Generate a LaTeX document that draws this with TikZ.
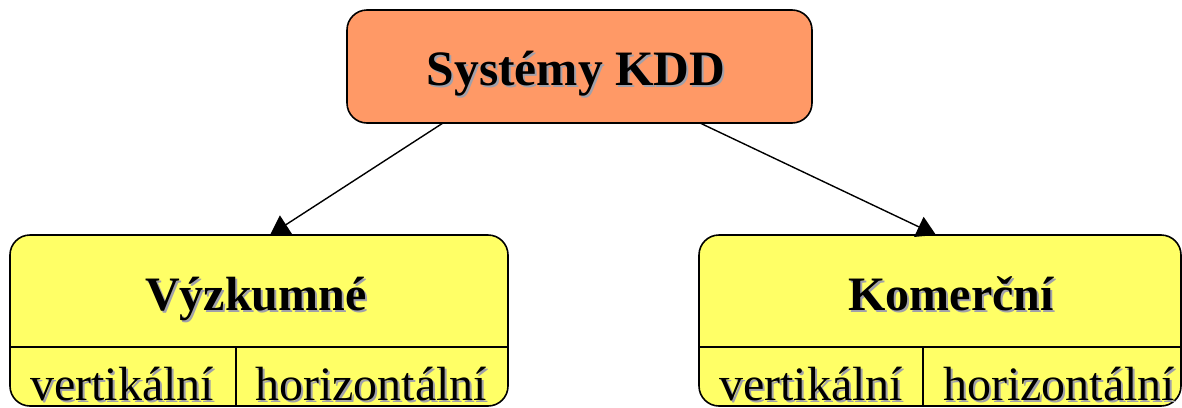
\documentclass[tikz,border=0pt]{standalone}
\usepackage{fontspec}
\setmainfont{Liberation Serif}
\usetikzlibrary{arrows.meta}
\definecolor{boxorange}{RGB}{255,153,102}
\definecolor{boxyellow}{RGB}{255,255,102}
\definecolor{shadowgray}{RGB}{160,160,170}
% text with a soft grey drop shadow
\newcommand\shadowed[1]{\makebox[0pt][l]{\kern2pt\raisebox{-2pt}{\textcolor{shadowgray}{#1}}}#1}
\begin{document}
\begin{tikzpicture}[x=1pt,y=-1pt,
  box/.style={draw=black, line width=1.6pt, rounded corners=20pt, inner sep=0pt},
  title/.style={anchor=base, font=\fontsize{48}{56}\selectfont\bfseries, inner sep=0pt},
  sub/.style={anchor=base, font=\fontsize{48}{56}\selectfont, inner sep=0pt},
  divider/.style={line width=1.6pt},
  arr/.style={line width=1.4pt, -{Triangle[length=19pt,width=22pt]}}]
\useasboundingbox (0,0) rectangle (1182,407);

% root
\node[box, fill=boxorange, minimum width=465pt, minimum height=113pt] (kdd) at (579.5,66.5) {};
\node[title, font=\fontsize{49.5}{58}\selectfont\bfseries] (kddtxt) at (576,85) {\shadowed{Systémy KDD}};

% research systems
\node[box, fill=boxyellow, minimum width=498pt, minimum height=171pt] (vyz) at (259,320.5) {};
\node[title] (vyztxt) at (256,310) {\shadowed{Výzkumné}};
\draw[divider] (10,347) -- (508,347);
\draw[divider] (236,347) -- (236,406);
\node[sub] (vyzv) at (122,400) {\shadowed{vertikální}};
\node[sub] (vyzh) at (371,400) {\shadowed{horizontální}};

% commercial systems
\node[box, fill=boxyellow, minimum width=482pt, minimum height=171pt] (kom) at (940,320.5) {};
\node[title] (komtxt) at (951,310) {\shadowed{Komerční}};
\draw[divider] (699,347) -- (1181,347);
\draw[divider] (923,347) -- (923,406);
\node[sub] (komv) at (811,400) {\shadowed{vertikální}};
\node[sub] (komh) at (1059,400) {\shadowed{horizontální}};

% connectors
\coordinate (s1) at (443,123);
\coordinate (t1) at (270,235);
\coordinate (s2) at (700,123);
\coordinate (t2) at (936,235);
\draw[arr] (s1) -- (t1);
\draw[arr] (s2) -- (t2);
\end{tikzpicture}
\end{document}
